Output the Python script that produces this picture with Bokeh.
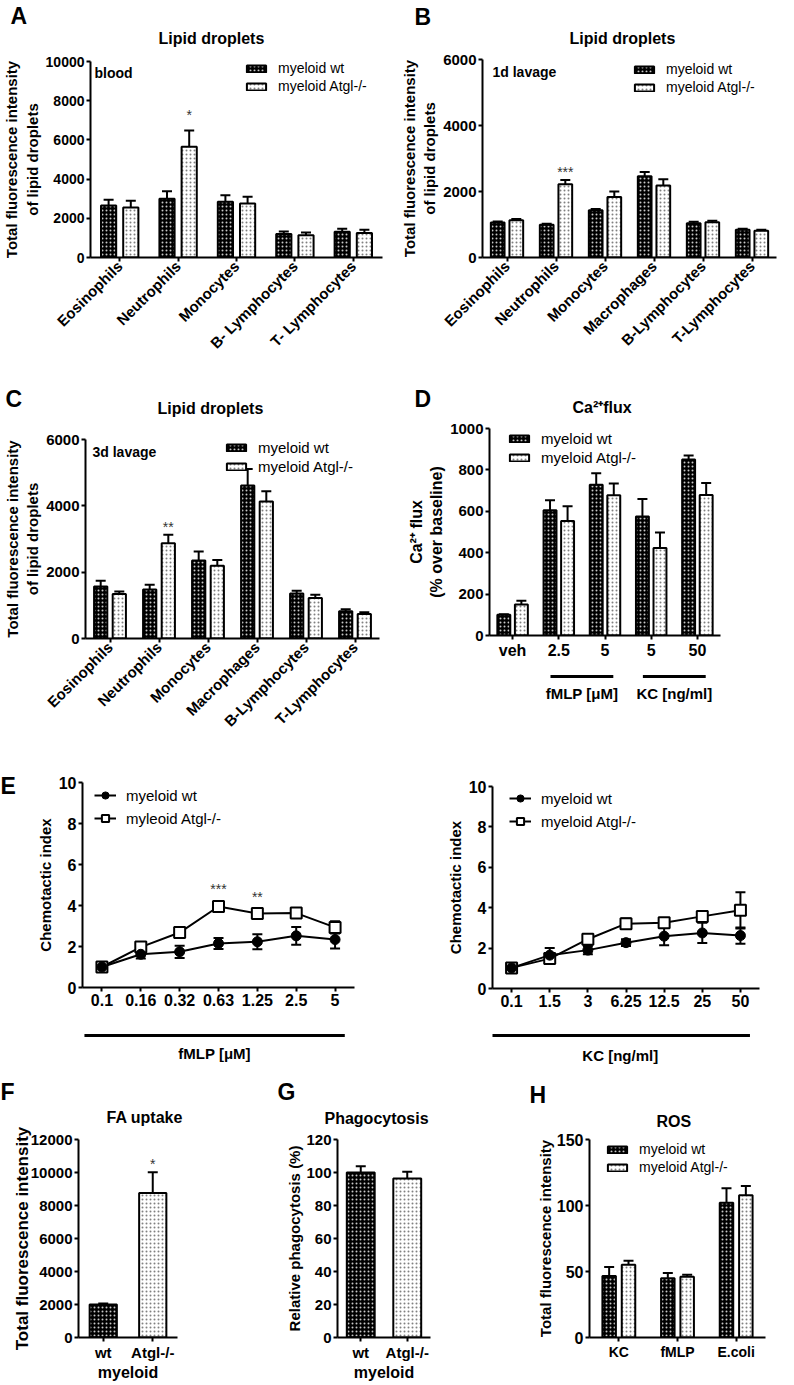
import math
from bokeh.plotting import figure
from bokeh.models import (ColumnDataSource, Whisker, TeeHead, Legend, LegendItem,
                          FixedTicker, Label, Range1d, Title)
from bokeh.layouts import row, column
from bokeh.embed import file_html
from bokeh.resources import INLINE
from bokeh.transform import dodge
from bokeh.core.properties import value

FONT = "Liberation Sans"

# ---------------- data ----------------
A_cells = ["Eosinophils", "Neutrophils", "Monocytes", "B- Lymphocytes", "T- Lymphocytes"]
A_wt = [2650, 3000, 2850, 1200, 1320]
A_wt_sem = [300, 380, 330, 130, 150]
A_ko = [2550, 5650, 2750, 1130, 1250]
A_ko_sem = [350, 830, 350, 150, 170]
A_sig = ["", "*", "", "", ""]

B_cells = ["Eosinophils", "Neutrophils", "Monocytes", "Macrophages", "B-Lymphocytes", "T-Lymphocytes"]
B_wt = [1060, 990, 1430, 2460, 1040, 840]
B_wt_sem = [30, 30, 40, 130, 40, 30]
B_ko = [1130, 2220, 1830, 2180, 1070, 810]
B_ko_sem = [40, 130, 170, 190, 40, 30]
B_sig = ["", "***", "", "", "", ""]

C_cells = ["Eosinophils", "Neutrophils", "Monocytes", "Macrophages", "B-Lymphocytes", "T-Lymphocytes"]
C_wt = [1570, 1480, 2350, 4610, 1360, 820]
C_wt_sem = [170, 140, 270, 500, 80, 60]
C_ko = [1340, 2870, 2190, 4130, 1220, 740]
C_ko_sem = [80, 260, 180, 310, 100, 50]
C_sig = ["", "**", "", "", "", ""]

D_doses = ["veh", "2.5", "5", "5", "50"]
D_wt = [100, 605, 728, 575, 850]
D_wt_sem = [3, 48, 56, 85, 20]
D_ko = [150, 553, 677, 423, 679]
D_ko_sem = [18, 72, 57, 75, 58]
D_sig = ["", "", "", "", ""]
D_groups = ["fMLP [μM]", "KC [ng/ml]"]
D_group_first = [1, 3]
D_group_last = [2, 4]

E1_conc = ["0.1", "0.16", "0.32", "0.63", "1.25", "2.5", "5"]
E1_wt = [1.0, 1.62, 1.74, 2.15, 2.23, 2.52, 2.34]
E1_wt_sem = [0.04, 0.2, 0.3, 0.27, 0.37, 0.43, 0.44]
E1_ko = [1.0, 1.97, 2.68, 3.95, 3.61, 3.63, 2.93]
E1_ko_sem = [0.04, 0.1, 0.12, 0.15, 0.12, 0.2, 0.3]
E1_sig = ["", "", "", "***", "**", "", ""]
E1_stim = ["fMLP [μM]"]

E2_conc = ["0.1", "1.5", "3", "6.25", "12.5", "25", "50"]
E2_wt = [1.02, 1.65, 1.9, 2.27, 2.59, 2.75, 2.62]
E2_wt_sem = [0.04, 0.35, 0.2, 0.17, 0.45, 0.5, 0.4]
E2_ko = [1.02, 1.48, 2.44, 3.21, 3.26, 3.57, 3.87]
E2_ko_sem = [0.04, 0.1, 0.15, 0.25, 0.2, 0.15, 0.9]
E2_sig = ["", "", "", "", "", "", ""]
E2_stim = ["KC [ng/ml]"]

F_geno = ["wt", "Atgl-/-"]
F_val = [2000, 8760]
F_sem = [60, 1250]
F_sig = ["", "*"]

G_geno = ["wt", "Atgl-/-"]
G_val = [100, 96.4]
G_sem = [3.8, 4.0]
G_sig = ["", ""]

H_stim = ["KC", "fMLP", "E.coli"]
H_wt = [46.5, 44.8, 102]
H_wt_sem = [7, 4, 11]
H_ko = [55.2, 46, 107.7]
H_ko_sem = [3, 1.5, 7]
H_sig = ["", "", ""]

# ---------------- styles ----------------
WT_STYLE = dict(fill_color="black", line_color="black", line_width=2,
                hatch_pattern="dot", hatch_color="#c8c8c8", hatch_scale=4, hatch_weight=0.5)
KO_STYLE = dict(fill_color="white", line_color="black", line_width=2,
                hatch_pattern="dot", hatch_color="#808080", hatch_scale=4, hatch_weight=0.5)


def make_fig(w, h, bl, br, bt, bb, xr, yr, axes=True):
    extra = {} if axes else dict(x_axis_type=None, y_axis_type=None)
    p = figure(width=w, height=h, x_range=xr, y_range=yr, output_backend="svg",
               toolbar_location=None, min_border_left=bl, min_border_right=br,
               min_border_top=bt, min_border_bottom=bb, **extra)
    p.outline_line_color = None
    p.title.standoff = 0
    if axes:
        p.xgrid.visible = False
        p.ygrid.visible = False
    return p


def style_axes(p, tick_px, label_px, label_standoff=2):
    for ax in p.axis:
        ax.axis_line_width = 2
        ax.axis_line_color = "black"
        ax.major_tick_line_width = 2
        ax.major_tick_line_color = "black"
        ax.major_tick_in = 0
        ax.major_tick_out = 4
        ax.minor_tick_line_color = None
        ax.major_label_standoff = 2
        ax.axis_label_standoff = label_standoff
        ax.major_label_text_font = FONT
        ax.major_label_text_font_style = "bold"
        ax.major_label_text_font_size = f"{tick_px}px"
        ax.major_label_text_color = "black"
        ax.axis_label_text_font = FONT
        ax.axis_label_text_font_style = "bold"
        ax.axis_label_text_font_size = f"{label_px}px"
        ax.axis_label_text_color = "black"


def set_axes(p, labels, ymax, ystep, ylabel, rotate=False, xlabel=None):
    p.xaxis.ticker = FixedTicker(ticks=list(range(len(labels))))
    p.xaxis.major_label_overrides = {i: lab for i, lab in enumerate(labels)}
    p.yaxis.ticker = FixedTicker(ticks=list(range(0, ymax + 1, ystep)))
    p.yaxis.axis_label = ylabel
    if rotate:
        p.xaxis.major_label_orientation = math.pi / 4
    if xlabel:
        p.xaxis.axis_label = xlabel


def titles(p, letter, l_off, l_so, title, t_off, t_so, t_size=16, l_size=23):
    # panel letter: outermost title
    p.title.text = letter
    p.title.align = "left"
    p.title.offset = l_off
    p.title.standoff = l_so
    p.title.text_font = FONT
    p.title.text_font_size = f"{l_size}px"
    p.title.text_font_style = "bold"
    p.title.text_color = "black"
    # chart title: closest to the frame
    p.add_layout(Title(text=title, align="left", offset=t_off, standoff=t_so,
                       text_font=FONT, text_font_size=f"{t_size}px",
                       text_font_style="bold", text_color="black"), "above")


def inner_text(p, x, y, text, size=14):
    p.add_layout(Label(x=x, y=y, x_units="canvas", y_units="canvas", text=text,
                       text_font=FONT, text_font_size=f"{size}px", text_font_style="bold",
                       text_align="left", text_baseline="alphabetic", text_color="black"))


def add_legend(p, items, x, top, frame_h, size=14, label_h=16, spacing=2,
               glyph_w=24, glyph_h=9, standoff=10):
    n = len(items)
    lh = n * label_h + (n - 1) * spacing
    leg = Legend(items=[LegendItem(label=l, renderers=r) for l, r in items],
                 location=(x, frame_h - top - lh), padding=0, margin=0, spacing=spacing,
                 label_height=label_h, glyph_width=glyph_w, glyph_height=glyph_h,
                 label_standoff=standoff, border_line_color=None, background_fill_alpha=0,
                 label_text_font=FONT, label_text_font_size=f"{size}px",
                 label_text_color="black")
    p.add_layout(leg)


def whisker(src, base, lo, hi, cap=10, both=False):
    head = lambda: TeeHead(size=cap, line_width=2, line_color="black")
    return Whisker(source=src, base=base, lower=lo, upper=hi, line_width=2,
                   line_color="black", upper_head=head(),
                   lower_head=head() if both else None)


def star_text(p, x, src):
    p.text(x=x, y="star_y", text="sig", source=src, text_align="center",
           text_baseline="bottom", text_font=value(FONT), text_font_size="14px",
           text_color="#333333")


def grouped_bars(p, wt, wt_sem, ko, ko_sem, sig, width, off, star_pad, cap=10):
    xs = list(range(len(wt)))
    src = ColumnDataSource(dict(
        x=xs, wt=wt, ko=ko,
        wt_hi=[v + e for v, e in zip(wt, wt_sem)],
        ko_hi=[v + e for v, e in zip(ko, ko_sem)],
        star_y=[v + e + star_pad for v, e in zip(ko, ko_sem)],
        sig=sig))
    r_wt = p.vbar(x=dodge("x", -off), top="wt", width=width, source=src, **WT_STYLE)
    r_ko = p.vbar(x=dodge("x", off), top="ko", width=width, source=src, **KO_STYLE)
    p.add_layout(whisker(src, dodge("x", -off), "wt", "wt_hi", cap))
    p.add_layout(whisker(src, dodge("x", off), "ko", "ko_hi", cap))
    star_text(p, dodge("x", off), src)
    return r_wt, r_ko


def single_bars(p, vals, sems, sig, width, star_pad, cap=10):
    xs = list(range(len(vals)))
    src = ColumnDataSource(dict(
        x=xs, top=vals, hi=[v + e for v, e in zip(vals, sems)],
        star_y=[v + e + star_pad for v, e in zip(vals, sems)], sig=sig,
        fill=[WT_STYLE["fill_color"], KO_STYLE["fill_color"]],
        hatch=[WT_STYLE["hatch_color"], KO_STYLE["hatch_color"]]))
    p.vbar(x="x", top="top", width=width, source=src, fill_color="fill",
           line_color="black", line_width=2, hatch_pattern="dot", hatch_color="hatch",
           hatch_scale=WT_STYLE["hatch_scale"], hatch_weight=WT_STYLE["hatch_weight"])
    p.add_layout(whisker(src, "x", "top", "hi", cap))
    star_text(p, "x", src)


def line_panel(p, wt, wt_sem, ko, ko_sem, sig, star_pad):
    xs = list(range(len(wt)))
    src = ColumnDataSource(dict(
        x=xs, wt=wt, ko=ko,
        wt_lo=[v - e for v, e in zip(wt, wt_sem)], wt_hi=[v + e for v, e in zip(wt, wt_sem)],
        ko_lo=[v - e for v, e in zip(ko, ko_sem)], ko_hi=[v + e for v, e in zip(ko, ko_sem)],
        star_y=[v + e + star_pad for v, e in zip(ko, ko_sem)], sig=sig))
    p.add_layout(whisker(src, "x", "ko_lo", "ko_hi", 10, both=True))
    p.add_layout(whisker(src, "x", "wt_lo", "wt_hi", 10, both=True))
    l_ko = p.line("x", "ko", source=src, line_width=2, line_color="black")
    l_wt = p.line("x", "wt", source=src, line_width=2, line_color="black")
    s_ko = p.scatter("x", "ko", source=src, marker="square", size=11, fill_color="white",
                     line_color="black", line_width=2)
    s_wt = p.scatter("x", "wt", source=src, marker="circle", size=10, fill_color="black",
                     line_color="black")
    star_text(p, "x", src)
    return [l_wt, s_wt], [l_ko, s_ko]


def bracket_fig(w, h, bl, br, xr, first, last, labels, pad_l, pad_r, line_y, text_y, size=15):
    p = make_fig(w, h, bl, br, 0, 0, xr, Range1d(0, h), axes=False)
    x0 = [f - pad_l for f in first]
    x1 = [l + pad_r for l in last]
    src = ColumnDataSource(dict(x0=x0, x1=x1, xm=[(a + b) / 2 for a, b in zip(x0, x1)],
                                lab=labels, ly=[line_y] * len(labels), ty=[text_y] * len(labels)))
    p.segment(x0="x0", x1="x1", y0="ly", y1="ly", source=src, line_width=3, line_color="black")
    p.text(x="xm", y="ty", text="lab", source=src, text_align="center",
           text_baseline="alphabetic", text_font=value(FONT), text_font_style="bold",
           text_font_size=f"{size}px", text_color="black")
    return p


def letter_fig(w, h, letter, baseline_from_top, size=23):
    p = make_fig(w, h, 0, 0, 0, 0, Range1d(0, w), Range1d(0, h), axes=False)
    src = ColumnDataSource(dict(x=[0], y=[h - baseline_from_top], t=[letter]))
    p.text(x="x", y="y", text="t", source=src, text_align="left", text_baseline="alphabetic",
           text_font=value(FONT), text_font_style="bold", text_font_size=f"{size}px",
           text_color="black")
    return p


LEG = lambda rw, rk: [("myeloid wt", [rw]), ("myeloid Atgl-/-", [rk])]

# ---------------- panel A ----------------
pA = make_fig(390, 360, 80, 8, 61, 99, Range1d(-0.5, len(A_cells) - 0.5), Range1d(0, 10000))
style_axes(pA, 14, 15)
pA.xaxis.major_label_text_font_size = "15px"
set_axes(pA, A_cells, 10000, 2000, "Total fluorescence intensity\nof lipid droplets", rotate=True)
rw, rk = grouped_bars(pA, A_wt, A_wt_sem, A_ko, A_ko_sem, A_sig, 0.26, 0.19, 400)
add_legend(pA, LEG(rw, rk), 154, 3, 200, size=14)
titles(pA, "A", -80, -30, "Lipid droplets", 68, 29)
inner_text(pA, 94, 72, "blood")

# ---------------- panel B ----------------
pB = make_fig(388, 360, 92, 2, 59, 103, Range1d(-0.5, len(B_cells) - 0.5), Range1d(0, 6000))
style_axes(pB, 15, 15)
set_axes(pB, B_cells, 6000, 2000, "Total fluorescence intensity\nof lipid droplets", rotate=True)
rw, rk = grouped_bars(pB, B_wt, B_wt_sem, B_ko, B_ko_sem, B_sig, 0.28, 0.19, 0)
add_legend(pB, LEG(rw, rk), 150, 2, 198, size=14)
titles(pB, "B", -68, -28, "Lipid droplets", 87, 25)
inner_text(pB, 102, 71, "1d lavage")

# ---------------- panel C ----------------
pC = make_fig(390, 383, 80, 11, 79, 105, Range1d(-0.5, len(C_cells) - 0.5), Range1d(0, 6000))
style_axes(pC, 15, 15)
set_axes(pC, C_cells, 6000, 2000, "Total fluorescence intensity\nof lipid droplets", rotate=True)
rw, rk = grouped_bars(pC, C_wt, C_wt_sem, C_ko, C_ko_sem, C_sig, 0.27, 0.19, 0)
add_legend(pC, LEG(rw, rk), 139, 2, 199, size=15)
titles(pC, "C", -80, -72, "Lipid droplets", 72, 45)
inner_text(pC, 92, 91, "3d lavage")

# ---------------- panel D ----------------
pD = make_fig(388, 305, 99, 58, 68, 30, Range1d(-0.5, len(D_doses) - 0.5), Range1d(0, 1000))
style_axes(pD, 15, 16)
pD.xaxis.major_label_text_font_size = "16px"
set_axes(pD, D_doses, 1000, 200, "Ca²⁺ flux\n(% over baseline)")
rw, rk = grouped_bars(pD, D_wt, D_wt_sem, D_ko, D_ko_sem, D_sig, 0.28, 0.19, 0)
add_legend(pD, LEG(rw, rk), 18, 4, 207, size=15)
titles(pD, "D", -75, -54, "Ca²⁺flux", 83, 25)
pDs = bracket_fig(388, 78, 99, 58, pD.x_range, D_group_first, D_group_last, D_groups,
                  0.18, 0.18, 67, 50)

# ---------------- panel E ----------------
pEl = letter_fig(24, 322, "E", 42)
pE1 = make_fig(366, 277, 58, 36, 39, 33, Range1d(-0.5, len(E1_conc) - 0.5), Range1d(0, 10))
style_axes(pE1, 16, 15)
set_axes(pE1, E1_conc, 10, 2, "Chemotactic index")
it_wt, it_ko = line_panel(pE1, E1_wt, E1_wt_sem, E1_ko, E1_ko_sem, E1_sig, 0.3)
add_legend(pE1, [("myeloid wt", it_wt), ("myleoid Atgl-/-", it_ko)], 12, 4, 205, size=15,
           label_h=18, spacing=5, glyph_w=22, glyph_h=18, standoff=10)
pE1s = bracket_fig(366, 45, 58, 36, pE1.x_range, [0], [len(E1_conc) - 1], E1_stim,
                   0.45, 0.25, 30, 12)

pE2 = make_fig(388, 277, 102, 19, 43, 32, Range1d(-0.5, len(E2_conc) - 0.5), Range1d(0, 10))
style_axes(pE2, 16, 15)
set_axes(pE2, E2_conc, 10, 2, "Chemotactic index")
it_wt, it_ko = line_panel(pE2, E2_wt, E2_wt_sem, E2_ko, E2_ko_sem, E2_sig, 0.3)
add_legend(pE2, [("myeloid wt", it_wt), ("myeloid Atgl-/-", it_ko)], 17, 3, 202, size=15,
           label_h=18, spacing=5, glyph_w=22, glyph_h=18, standoff=10)
pE2s = bracket_fig(388, 45, 102, 19, pE2.x_range, [0], [len(E2_conc) - 1], E2_stim,
                   0.55, 0.25, 30, 10)

# ---------------- panel F ----------------
pF = make_fig(254, 320, 78, 77, 74, 48, Range1d(-0.5, len(F_geno) - 0.5), Range1d(0, 12000))
style_axes(pF, 15, 17, label_standoff=0)
pF.yaxis.axis_label_standoff = -4
set_axes(pF, F_geno, 12000, 2000, "Total fluorescence intensity", xlabel="myeloid")
pF.xaxis.axis_label_text_font_size = "16px"
single_bars(pF, F_val, F_sem, F_sig, 0.55, 0)
titles(pF, "F", -78, -22, "FA uptake", 28, 27)

# ---------------- panel G ----------------
pG = make_fig(258, 320, 83, 82, 74, 48, Range1d(-0.5, len(G_geno) - 0.5), Range1d(0, 120))
style_axes(pG, 15, 15, label_standoff=0)
set_axes(pG, G_geno, 120, 20, "Relative phagocytosis (%)", xlabel="myeloid")
pG.xaxis.axis_label_text_font_size = "16px"
single_bars(pG, G_val, G_sem, G_sig, 0.6, 0)
titles(pG, "G", -60, -18, "Phagocytosis", -13, 25)

# ---------------- panel H ----------------
pH = make_fig(266, 320, 77, 13, 74, 48, Range1d(-0.5, len(H_stim) - 0.5), Range1d(0, 150))
style_axes(pH, 16, 15, label_standoff=0)
pH.xaxis.major_label_text_font_size = "14px"
set_axes(pH, H_stim, 150, 50, "Total fluorescence intensity")
rw, rk = grouped_bars(pH, H_wt, H_wt_sem, H_ko, H_ko_sem, H_sig, 0.23, 0.165, 0)
add_legend(pH, LEG(rw, rk), 16, 2, 198, size=14)
titles(pH, "H", -60, -12, "ROS", 67, 19)

layout = column(
    row(column(pA), column(pB)),
    row(pC, column(pD, pDs)),
    row(pEl, column(pE1, pE1s), column(pE2, pE2s)),
    row(pF, pG, pH),
)

open("out.html", "w").write(file_html(layout, INLINE))
